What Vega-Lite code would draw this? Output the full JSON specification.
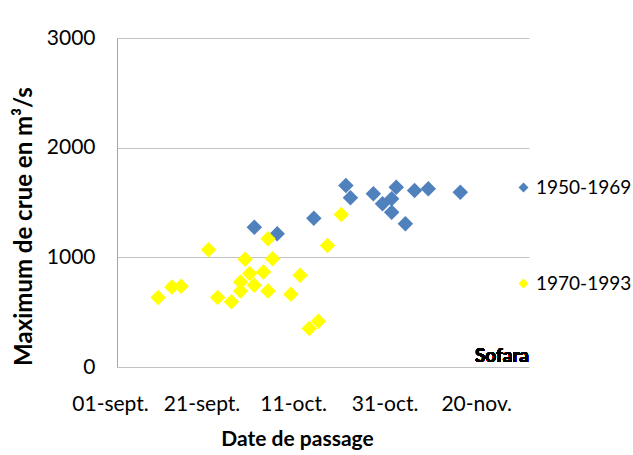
{
  "$schema": "https://vega.github.io/schema/vega-lite/v6.json",
  "autosize": {"type": "none"},
  "padding": {"left": 117, "top": 38, "right": 104, "bottom": 88},
  "width": 412,
  "height": 329,
  "background": "white",
  "config": {
    "view": {"stroke": null},
    "font": "Lato",
    "axis": {"labelFont": "Lato", "titleFont": "Lato", "labelColor": "#000", "titleColor": "#000"},
    "legend": {"labelFont": "Lato"}
  },
  "data": {
    "values": [
      {"date": "2000-10-01", "debit": 1275, "periode": "1950-1969"},
      {"date": "2000-10-06", "debit": 1215, "periode": "1950-1969"},
      {"date": "2000-10-14", "debit": 1357, "periode": "1950-1969"},
      {"date": "2000-10-21", "debit": 1655, "periode": "1950-1969"},
      {"date": "2000-10-22", "debit": 1543, "periode": "1950-1969"},
      {"date": "2000-10-27", "debit": 1579, "periode": "1950-1969"},
      {"date": "2000-10-29", "debit": 1488, "periode": "1950-1969"},
      {"date": "2000-10-31", "debit": 1534, "periode": "1950-1969"},
      {"date": "2000-10-31", "debit": 1412, "periode": "1950-1969"},
      {"date": "2000-11-01", "debit": 1639, "periode": "1950-1969"},
      {"date": "2000-11-03", "debit": 1306, "periode": "1950-1969"},
      {"date": "2000-11-05", "debit": 1609, "periode": "1950-1969"},
      {"date": "2000-11-08", "debit": 1625, "periode": "1950-1969"},
      {"date": "2000-11-15", "debit": 1594, "periode": "1950-1969"},
      {"date": "2000-09-10", "debit": 634, "periode": "1970-1993"},
      {"date": "2000-09-13", "debit": 730, "periode": "1970-1993"},
      {"date": "2000-09-15", "debit": 736, "periode": "1970-1993"},
      {"date": "2000-09-21", "debit": 1070, "periode": "1970-1993"},
      {"date": "2000-09-23", "debit": 634, "periode": "1970-1993"},
      {"date": "2000-09-26", "debit": 594, "periode": "1970-1993"},
      {"date": "2000-09-28", "debit": 775, "periode": "1970-1993"},
      {"date": "2000-09-28", "debit": 694, "periode": "1970-1993"},
      {"date": "2000-09-29", "debit": 982, "periode": "1970-1993"},
      {"date": "2000-09-30", "debit": 852, "periode": "1970-1993"},
      {"date": "2000-10-01", "debit": 745, "periode": "1970-1993"},
      {"date": "2000-10-03", "debit": 866, "periode": "1970-1993"},
      {"date": "2000-10-04", "debit": 1170, "periode": "1970-1993"},
      {"date": "2000-10-04", "debit": 694, "periode": "1970-1993"},
      {"date": "2000-10-05", "debit": 988, "periode": "1970-1993"},
      {"date": "2000-10-09", "debit": 664, "periode": "1970-1993"},
      {"date": "2000-10-11", "debit": 836, "periode": "1970-1993"},
      {"date": "2000-10-13", "debit": 352, "periode": "1970-1993"},
      {"date": "2000-10-15", "debit": 418, "periode": "1970-1993"},
      {"date": "2000-10-17", "debit": 1109, "periode": "1970-1993"},
      {"date": "2000-10-20", "debit": 1391, "periode": "1970-1993"}
    ]
  },
  "layer": [
    {
      "mark": {"type": "point", "shape": "diamond", "filled": true, "size": 240, "opacity": 1, "strokeWidth": 0},
      "encoding": {
        "x": {
          "field": "date", "type": "temporal",
          "scale": {"type": "utc", "domain": [{"year": 2000, "month": 9, "date": 1, "utc": true}, {"year": 2000, "month": 11, "date": 30, "utc": true}], "nice": false},
          "axis": {
            "values": [
              {"year": 2000, "month": 9, "date": 1, "utc": true},
              {"year": 2000, "month": 9, "date": 21, "utc": true},
              {"year": 2000, "month": 10, "date": 11, "utc": true},
              {"year": 2000, "month": 10, "date": 31, "utc": true},
              {"year": 2000, "month": 11, "date": 20, "utc": true}
            ],
            "labelExpr": "utcFormat(datum.value, '%d') + '-' + (utcmonth(datum.value) == 8 ? 'sept.' : utcmonth(datum.value) == 9 ? 'oct.' : 'nov.')",
            "title": "Date de passage",
            "titleFontSize": 21, "titleFontWeight": "bold", "titlePadding": 14,
            "titleX": 180, "titleAlign": "center",
            "labelFontSize": 21, "labelPadding": 26, "labelOffset": -7, "labelFlush": false, "labelOverlap": false,
            "domain": false, "ticks": false, "grid": false
          }
        },
        "y": {
          "field": "debit", "type": "quantitative",
          "scale": {"domain": [0, 3000], "nice": false},
          "axis": {
            "values": [0, 1000, 2000, 3000],
            "format": "d",
            "title": "Maximum de crue en m³/s",
            "titleFontSize": 24, "titleFontWeight": "bold", "titlePadding": 10,
            "titleY": 188,
            "labelFontSize": 21, "labelPadding": 22,
            "domain": true, "domainColor": "#a6a6a6", "ticks": false,
            "grid": true, "gridColor": "#c4c4c4", "gridWidth": 1
          }
        },
        "color": {
          "field": "periode", "type": "nominal",
          "scale": {"domain": ["1950-1969", "1970-1993"], "range": ["#4F81BD", "#FFFF00"]},
          "legend": {
            "title": null, "orient": "none", "legendX": 397, "legendY": 140,
            "symbolType": "diamond", "symbolSize": 100, "symbolStrokeWidth": 0,
            "labelFontSize": 19, "labelColor": "#000", "labelOffset": 3, "rowPadding": 76, "padding": 0
          }
        }
      }
    },
    {
      "mark": {"type": "text", "text": "Sofara", "font": "Lato", "fontSize": 19, "fontWeight": "bold", "align": "right", "baseline": "alphabetic", "color": "#000"},
      "encoding": {
        "x": {"datum": {"year": 2000, "month": 11, "date": 30, "utc": true}, "type": "temporal"},
        "y": {"datum": 45, "type": "quantitative"}
      }
    }
  ]
}
